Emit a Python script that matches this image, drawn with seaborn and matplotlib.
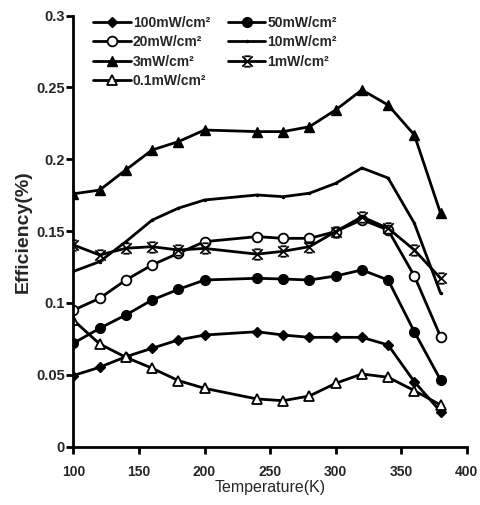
import numpy as np
import pandas as pd
import matplotlib
matplotlib.use('Agg')
import matplotlib.pyplot as plt
from matplotlib.path import Path
import seaborn as sns

###########
# Data    #
###########
temps = [100, 120, 140, 160, 180, 200, 240, 260, 280, 300, 320, 340, 360, 380]

eff_100mw = [0.0495, 0.0553, 0.0626, 0.0685, 0.0743, 0.0777, 0.0800, 0.0777,
             0.0761, 0.0761, 0.0761, 0.0708, 0.0452, 0.0244]
eff_50mw = [0.0720, 0.0824, 0.0917, 0.1021, 0.1095, 0.1160, 0.1172, 0.1167,
            0.1160, 0.1188, 0.1230, 0.1160, 0.0800, 0.0464]
eff_20mw = [0.0950, 0.1033, 0.1160, 0.1265, 0.1346, 0.1427, 0.1462, 0.1450,
            0.1450, 0.1497, 0.1580, 0.1508, 0.1188, 0.0766]
eff_10mw = [0.1220, 0.1288, 0.1427, 0.1577, 0.1660, 0.1717, 0.1752, 0.1740,
            0.1764, 0.1833, 0.1940, 0.1870, 0.1555, 0.1068]
eff_3mw = [0.1760, 0.1786, 0.1927, 0.2065, 0.2123, 0.2204, 0.2193, 0.2193,
           0.2227, 0.2344, 0.2483, 0.2378, 0.2170, 0.1624]
eff_1mw = [0.1404, 0.1334, 0.1381, 0.1392, 0.1369, 0.1380, 0.1340, 0.1360,
           0.1392, 0.1497, 0.1600, 0.1520, 0.1369, 0.1172]
eff_01mw = [0.0880, 0.0715, 0.0622, 0.0546, 0.0460, 0.0406, 0.0332, 0.0320,
            0.0353, 0.0441, 0.0506, 0.0483, 0.0390, 0.0290]

labels = ['100mW/cm²', '50mW/cm²', '20mW/cm²', '10mW/cm²',
          '3mW/cm²', '1mW/cm²', '0.1mW/cm²']
series = [eff_100mw, eff_50mw, eff_20mw, eff_10mw, eff_3mw, eff_1mw, eff_01mw]

x_ticks = [100, 150, 200, 250, 300, 350, 400]
y_ticks = [0, 0.05, 0.1, 0.15, 0.2, 0.25, 0.3]
y_tick_labels = ['0', '0.05', '0.1', '0.15', '0.2', '0.25', '0.3']

# X marker with bars on top and bottom
star_x = Path([(-1, 1), (1, -1), (-1, -1), (1, 1),
               (-0.6, 1), (0.6, 1), (-0.6, -1), (0.6, -1)],
              [Path.MOVETO, Path.LINETO, Path.MOVETO, Path.LINETO,
               Path.MOVETO, Path.LINETO, Path.MOVETO, Path.LINETO])

# marker, face colour, size, edge width
styles = {
    '100mW/cm²': ('D', 'black', 5.5, 1.0),
    '50mW/cm²': ('o', 'black', 7, 1.0),
    '20mW/cm²': ('o', 'white', 7, 1.3),
    '10mW/cm²': ('.', 'black', 3, 1.0),
    '3mW/cm²': ('^', 'black', 7.5, 1.0),
    '1mW/cm²': (star_x, 'none', 7.5, 1.3),
    '0.1mW/cm²': ('^', 'white', 7.5, 1.3),
}

#########
# Plot  #
#########
sns.set_style('ticks')
plt.rcParams['font.family'] = ['Liberation Sans', 'DejaVu Sans']

fig = plt.figure(figsize=(4.8, 5.05), dpi=100)
ax = fig.add_axes([0.153, 0.1155, 0.8195, 0.8535])

df = pd.DataFrame({'temp': temps})
handles = {}
for lab, vals in zip(labels, series):
    df[lab] = vals
    mk, fc, ms, mew = styles[lab]
    sns.lineplot(data=df, x='temp', y=lab, ax=ax, color='black',
                 linewidth=2, marker=mk, markersize=ms,
                 markerfacecolor=fc, markeredgecolor='black',
                 markeredgewidth=mew, legend=False)
    handles[lab] = ax.lines[-1]

ax.set_xlim(100, 400)
ax.set_ylim(0, 0.3)
ax.set_xticks(x_ticks)
ax.set_xticklabels([str(t) for t in x_ticks])
ax.set_yticks(y_ticks)
ax.set_yticklabels(y_tick_labels)
for t in ax.get_xticklabels() + ax.get_yticklabels():
    t.set_fontweight('bold')
ax.tick_params(axis='x', labelsize=10, length=5, width=2, pad=8, color='black')
ax.tick_params(axis='y', labelsize=10.5, length=5, width=2, pad=1, color='black')
ax.set_xlabel('Temperature(K)', fontsize=11.5, labelpad=1)
ax.set_ylabel('Efficiency(%)', fontsize=14, fontweight='bold', labelpad=3)
sns.despine(ax=ax)
for s in ['left', 'bottom']:
    ax.spines[s].set_linewidth(2)
    ax.spines[s].set_color('black')

# row-major order with 2 columns
order = ['100mW/cm²', '20mW/cm²', '3mW/cm²', '0.1mW/cm²',
         '50mW/cm²', '10mW/cm²', '1mW/cm²']
ax.legend([handles[o] for o in order], order, ncol=2, frameon=False,
          loc='upper left', bbox_to_anchor=(0.05, 1.0), borderaxespad=0,
          borderpad=0, handlelength=2.7, handletextpad=0.15,
          labelspacing=0.4, columnspacing=1.3,
          prop={'size': 10, 'weight': 'bold'})

fig.savefig('out.png', dpi=100)
